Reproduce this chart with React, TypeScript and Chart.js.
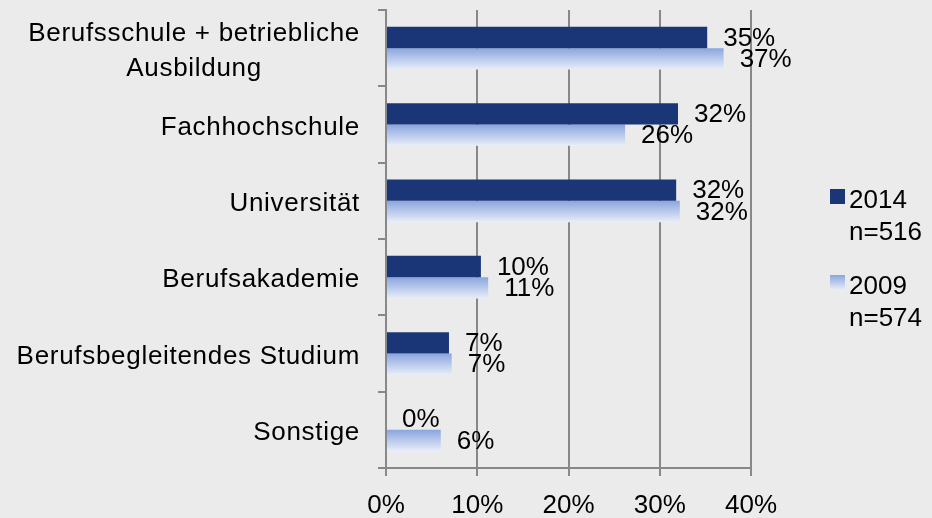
import React, { useEffect, useRef } from 'react';
import { Chart, registerables } from 'chart.js';

Chart.register(...registerables);

const categories: string[][] = [
  ['Berufsschule + betriebliche', 'Ausbildung'],
  ['Fachhochschule'],
  ['Universität'],
  ['Berufsakademie'],
  ['Berufsbegleitendes Studium'],
  ['Sonstige'],
];
const values2014 = [35.2, 32.0, 31.8, 10.4, 6.9, 0];
const values2009 = [37.0, 26.2, 32.2, 11.2, 7.2, 6.0];
const seriesNames = ['2014', '2009'];
const seriesN = ['n=516', 'n=574'];
const xMin = 0;
const xMax = 40;
const xStep = 10;

const FONT = "'Liberation Sans', Arial, sans-serif";
const DARK = '#1b3677';
const LIGHT_TOP = '#8aa5de';
const LIGHT_BOTTOM = '#e8eef9';
const GRID = '#888888';
const BG = '#ebebeb';
const CAT_PCT = 0.56;

function lightGradient(ctx: CanvasRenderingContext2D, y0: number, y1: number) {
  const g = ctx.createLinearGradient(0, y0, 0, y1);
  g.addColorStop(0, LIGHT_TOP);
  g.addColorStop(1, LIGHT_BOTTOM);
  return g;
}

const labelPlugin = {
  id: 'customLabels',
  afterDatasetsDraw(chart: any) {
    const ctx = chart.ctx as CanvasRenderingContext2D;
    ctx.save();
    ctx.font = `26px ${FONT}`;
    ctx.fillStyle = '#000';
    ctx.textAlign = 'left';
    ctx.textBaseline = 'middle';
    chart.data.datasets.forEach((ds: any, di: number) => {
      const meta = chart.getDatasetMeta(di);
      meta.data.forEach((el: any, i: number) => {
        ctx.fillText(Math.round(ds.data[i]) + '%', el.x + 16, el.y + 1);
      });
    });
    ctx.restore();
  },
  afterDraw(chart: any) {
    const ctx = chart.ctx as CanvasRenderingContext2D;
    const area = chart.chartArea;
    const yScale = chart.scales.y;
    ctx.save();
    ctx.font = `26px ${FONT}`;
    ctx.fillStyle = '#000';
    ctx.textBaseline = 'middle';
    (ctx as any).letterSpacing = '0.7px';
    const right = area.left - 26;
    categories.forEach((lines, i) => {
      const c = yScale.getPixelForValue(i) + 3;
      const maxW = Math.max(...lines.map((l) => ctx.measureText(l).width));
      ctx.textAlign = 'center';
      lines.forEach((line, j) => {
        const y = c + (j - (lines.length - 1) / 2) * 35;
        ctx.fillText(line, right - maxW / 2, y);
      });
    });
    (ctx as any).letterSpacing = '0px';
    // legend
    const x0 = area.right + 79;
    const cy = (area.top + area.bottom) / 2;
    seriesNames.forEach((name, i) => {
      const y1 = cy - 39 + i * 86;
      const my = y1 - 11;
      if (i === 0) ctx.fillStyle = DARK;
      else ctx.fillStyle = lightGradient(ctx, my, my + 15);
      ctx.fillRect(x0, my, 15, 15);
      ctx.fillStyle = '#000';
      ctx.textAlign = 'left';
      ctx.fillText(name, x0 + 19, y1 + 1);
      ctx.fillText(seriesN[i], x0 + 19, y1 + 33);
    });
    ctx.restore();
  },
};

export default function App() {
  const ref = useRef<HTMLCanvasElement | null>(null);
  useEffect(() => {
    if (!ref.current) return;
    const chart = new Chart(ref.current, {
      type: 'bar',
      data: {
        labels: categories.map((c) => c.join(' ')),
        datasets: [
          {
            label: seriesNames[0],
            data: values2014,
            backgroundColor: DARK,
            categoryPercentage: CAT_PCT,
            barPercentage: 1,
          },
          {
            label: seriesNames[1],
            data: values2009,
            backgroundColor: (c: any) => {
              const chart = c.chart;
              const y = chart.scales?.y;
              if (!chart.chartArea || !y || c.type !== 'data') return LIGHT_TOP;
              const center = y.getPixelForValue(c.dataIndex);
              const cw = y.getPixelForValue(1) - y.getPixelForValue(0);
              const bw = (cw * CAT_PCT) / 2;
              return lightGradient(chart.ctx, center, center + bw);
            },
            categoryPercentage: CAT_PCT,
            barPercentage: 1,
          },
        ],
      },
      options: {
        indexAxis: 'y',
        animation: false,
        responsive: false,
        devicePixelRatio: 1,
        layout: { padding: { top: 10, right: 181, bottom: 0, left: 0 } },
        plugins: {
          legend: { display: false },
          tooltip: { enabled: false },
        },
        scales: {
          x: {
            min: xMin,
            max: xMax,
            ticks: {
              stepSize: xStep,
              callback: (v: any) => v + '%',
              font: { family: FONT, size: 26 },
              color: '#000',
              padding: 14,
              maxRotation: 0,
            },
            grid: {
              color: GRID,
              lineWidth: 2,
              tickLength: 8,
              drawTicks: true,
            },
            border: { display: true, color: GRID, width: 2 },
            afterFit: (s: any) => {
              s.height = 50;
            },
          },
          y: {
            ticks: { display: false },
            grid: {
              color: GRID,
              lineWidth: 2,
              tickLength: 8,
              drawOnChartArea: false,
              drawTicks: true,
              offset: true,
            },
            border: { display: true, color: GRID, width: 2 },
            afterFit: (s: any) => {
              s.width = 386;
            },
          },
        },
      },
      plugins: [labelPlugin],
    } as any);
    return () => chart.destroy();
  }, []);
  return (
    <div style={{ position: 'absolute', left: 0, top: 0, width: 932, height: 518, background: BG }}>
      <canvas ref={ref} width={932} height={518} style={{ display: 'block', width: 932, height: 518 }} />
    </div>
  );
}
